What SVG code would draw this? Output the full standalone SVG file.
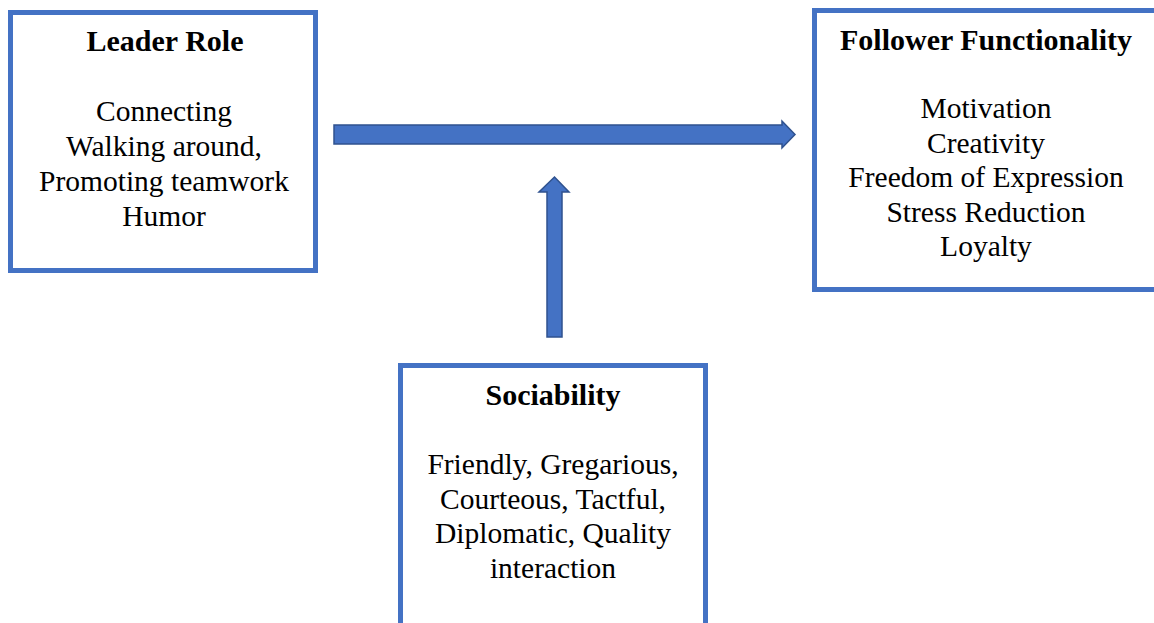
<svg xmlns="http://www.w3.org/2000/svg" width="1154" height="623" viewBox="0 0 1154 623">
<style>
.box{fill:#fff;stroke:#4472C4;stroke-width:5}
.t{font-family:"Liberation Serif","Times New Roman",serif;font-size:29.5px;fill:#000;text-anchor:middle}
.b{font-weight:bold;font-size:30px}
.arr{fill:#4472C4;stroke:#2F528F;stroke-width:1.5;stroke-linejoin:miter}
</style>
<rect width="1154" height="623" fill="#fff"/>
<g id="leader">
<rect class="box" x="10.5" y="12.5" width="305" height="258"/>
<text class="t b" x="165" y="51">Leader Role</text>
<text class="t" x="164" y="121">Connecting</text>
<text class="t" x="164" y="156">Walking around,</text>
<text class="t" x="164" y="191">Promoting teamwork</text>
<text class="t" x="164" y="226">Humor</text>
</g>
<g id="follower">
<rect class="box" x="814.5" y="10.5" width="345" height="279"/>
<text class="t b" x="986" y="50">Follower Functionality</text>
<text class="t" x="986" y="118">Motivation</text>
<text class="t" x="986" y="152.5">Creativity</text>
<text class="t" x="986" y="187">Freedom of Expression</text>
<text class="t" x="986" y="221.5">Stress Reduction</text>
<text class="t" x="986" y="256">Loyalty</text>
</g>
<g id="sociability">
<rect class="box" x="400.5" y="365.5" width="305" height="270"/>
<text class="t b" x="553" y="405">Sociability</text>
<text class="t" x="553" y="474">Friendly, Gregarious,</text>
<text class="t" x="553" y="509">Courteous, Tactful,</text>
<text class="t" x="553" y="543">Diplomatic, Quality</text>
<text class="t" x="553" y="578">interaction</text>
</g>
<g id="connectors">
<path class="arr" d="M334,125 H782 V121 L795,134.5 L782,148 V144 H334 Z"/>
<path class="arr" d="M547,337 V192 H539 L554.5,177 L569,192 H562 V337 Z"/>
</g>
</svg>
